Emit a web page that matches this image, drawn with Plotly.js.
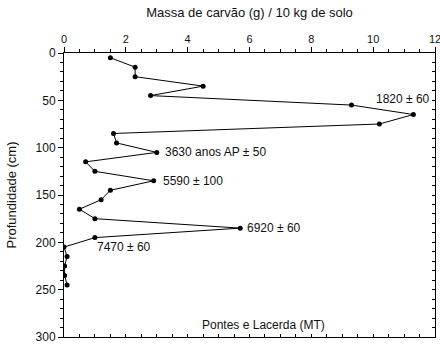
<!DOCTYPE html>
<html>
<head>
<meta charset="utf-8">
<script src="https://cdn.plot.ly/plotly-3.0.1.min.js"></script>
<style>html,body{margin:0;padding:0;background:#fff;}#chart{width:440px;height:345px;}</style>
</head>
<body>
<div id="chart"></div>
<script>
// Depth (cm) and charcoal mass (g / 10 kg soil)
const depth = [5,15,25,35,45,55,65,75,85,95,105,115,125,135,145,155,165,175,185,195,205,215,225,235,245];
const mass  = [1.5,2.3,2.3,4.5,2.8,9.3,11.3,10.2,1.6,1.7,3.0,0.7,1.0,2.9,1.5,1.2,0.5,1.0,5.7,1.0,0,0.1,0.02,0.02,0.1];
const xTicks = [0,2,4,6,8,10,12];
const yTicks = [0,50,100,150,200,250,300];
const ageLabels = ["1820 ± 60","3630 anos AP ± 50","5590 ± 100","6920 ± 60","7470 ± 60"];
const siteLabel = "Pontes e Lacerda (MT)";
const xTitle = "Massa de carvão (g) / 10 kg de solo";
const yTitle = "Profundidade (cm)";

const FONT = "Liberation Sans, Arial, sans-serif";
const traces = [
  {x: mass, y: depth, mode: 'lines+markers', type: 'scatter',
   line: {color: '#000', width: 1}, marker: {color: '#000', size: 5},
   hoverinfo: 'skip', showlegend: false},
  {x: mass, y: depth, xaxis: 'x2', yaxis: 'y2', mode: 'markers', type: 'scatter',
   opacity: 0, hoverinfo: 'skip', showlegend: false}
];

const annFont = {family: FONT, size: 12, color: '#111'};
const annotations = [
  {x: 11.9, y: 49, text: ageLabels[0], xanchor: 'right'},
  {x: 3.2, y: 105, text: ageLabels[1], xanchor: 'left'},
  {x: 3.13, y: 135, text: ageLabels[2], xanchor: 'left'},
  {x: 5.85, y: 185, text: ageLabels[3], xanchor: 'left'},
  {x: 1.0, y: 205, text: ageLabels[4], xanchor: 'left'},
  {x: 6.46, y: 287, text: siteLabel, xanchor: 'center'}
].map(a => Object.assign({xref: 'x', yref: 'y', yanchor: 'middle', showarrow: false, font: annFont}, a));

const layout = {
  width: 440, height: 345,
  margin: {l: 64, r: 5, t: 53, b: 8},
  paper_bgcolor: '#fff', plot_bgcolor: '#fff',
  font: {family: FONT, size: 12, color: '#111'},
  showlegend: false,
  xaxis: {
    side: 'top', range: [0, 12], tickvals: xTicks, ticktext: xTicks.map(String),
    ticks: 'outside', ticklen: 5, tickcolor: '#000', tickwidth: 1,
    ticklabeloverflow: 'allow',
    minor: {dtick: 0.5, ticks: 'outside', ticklen: 3, tickcolor: '#000', showgrid: false},
    showline: true, linecolor: '#000', linewidth: 1, showgrid: false, zeroline: false,
    tickfont: {family: FONT, size: 11, color: '#111'},
    title: {text: xTitle, standoff: 12, font: {family: FONT, size: 13, color: '#111'}}
  },
  xaxis2: {
    overlaying: 'x', side: 'bottom', anchor: 'y2', range: [0, 12],
    ticks: 'inside', dtick: 0.5, ticklen: 3, tickcolor: '#000', showticklabels: false,
    showline: true, linecolor: '#000', linewidth: 1, showgrid: false, zeroline: false
  },
  yaxis: {
    range: [300, 0], tickvals: yTicks, ticktext: yTicks.map(String),
    ticks: 'outside', ticklen: 5, tickcolor: '#000', tickwidth: 1,
    minor: {dtick: 10, ticks: 'outside', ticklen: 3, tickcolor: '#000', showgrid: false},
    showline: true, linecolor: '#000', linewidth: 1, showgrid: false, zeroline: false,
    tickfont: {family: FONT, size: 12, color: '#111'},
    title: {text: yTitle, standoff: 16, font: {family: FONT, size: 13, color: '#111'}}
  },
  yaxis2: {
    overlaying: 'y', side: 'right', anchor: 'x2', range: [300, 0],
    ticks: 'inside', dtick: 10, ticklen: 3, tickcolor: '#000', showticklabels: false,
    showline: true, linecolor: '#000', linewidth: 1, showgrid: false, zeroline: false
  },
  annotations: annotations
};

Plotly.newPlot('chart', traces, layout, {staticPlot: true, displayModeBar: false});
</script>
</body>
</html>
